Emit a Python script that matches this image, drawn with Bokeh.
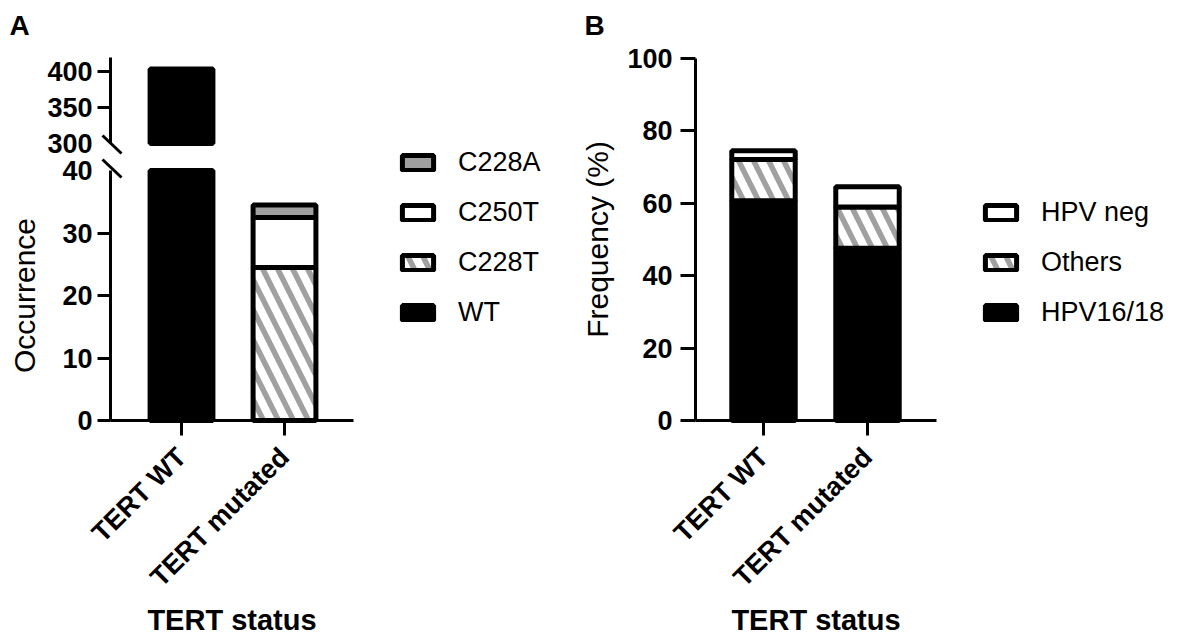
import math
from bokeh.plotting import figure
from bokeh.models import (Range1d, FixedTicker, Legend, LegendItem, Label,
                          LinearAxis, ColumnDataSource)
from bokeh.layouts import row
from bokeh.embed import file_html
from bokeh.resources import INLINE

# ---------------- data ----------------
categories = ["TERT WT", "TERT mutated"]

# Panel A (occurrence, broken y axis)
a_series = ["WT", "C228T", "C250T", "C228A"]
a_wt = [404, 0]
a_c228t = [0, 24.5]
a_c250t = [0, 8]
a_c228a = [0, 2]
a_low_ticks = [0, 10, 20, 30]
a_high_ticks = [350, 400]
a_low_segment = [0, 40]       # lower part of the broken axis
a_high_segment = [300, 420]   # upper part of the broken axis

# Panel B (frequency %)
b_series = ["HPV16/18", "Others", "HPV neg"]
b_hpv1618 = [60.7, 47.6]
b_others = [11.4, 11.4]
b_hpvneg = [2.4, 5.6]
b_ticks = [0, 20, 40, 60, 80, 100]

# ---------------- style / layout ----------------
FONT = "Liberation Sans"
GRAY = "#a0a0a0"
OUT_W = 5
BAR_W = 0.61
HATCH = dict(hatch_color=GRAY, hatch_weight=5.5, hatch_scale=30)
H = 640
WA, WB = 575, 606


class PixMap:
    """Linear map between data values and canvas pixels (used for layout only)."""
    def __init__(self, v0, px0, ppu, flip):
        self.v0, self.px0, self.ppu, self.flip = v0, px0, ppu, flip

    def v(self, px):
        d = (px - self.px0) / self.ppu
        return self.v0 - d if self.flip else self.v0 + d

    def rng(self, total):
        a, b = self.v(0), self.v(total)
        return Range1d(min(a, b), max(a, b))


def style_axis(ax, tick_out, label_standoff):
    ax.axis_line_width = 3
    ax.axis_line_color = "black"
    ax.major_tick_line_width = 3
    ax.major_tick_line_color = "black"
    ax.major_tick_out = tick_out
    ax.major_tick_in = 0
    ax.minor_tick_line_color = None
    ax.major_label_standoff = label_standoff
    ax.major_label_text_font = FONT
    ax.major_label_text_font_size = "27px"
    ax.major_label_text_font_style = "bold"
    ax.major_label_text_color = "black"
    ax.axis_label_text_font = FONT
    ax.axis_label_text_font_size = "30px"
    ax.axis_label_text_color = "black"
    ax.axis_label_text_font_style = "normal"


def make_fig(w, xr, yr, **kw):
    p = figure(width=w, height=H, x_range=xr, y_range=yr, output_backend="svg",
               toolbar_location=None, x_axis_location=None, y_axis_location=None,
               min_border=0, **kw)
    p.outline_line_color = None
    p.xgrid.grid_line_color = None
    p.ygrid.grid_line_color = None
    p.background_fill_color = "white"
    p.border_fill_color = "white"
    return p


def x_axis(p, bounds, label):
    ax = LinearAxis(fixed_location=0, bounds=bounds,
                    ticker=FixedTicker(ticks=list(range(len(categories)))),
                    major_label_overrides={i: c for i, c in enumerate(categories)},
                    axis_label=label)
    style_axis(ax, 15, 17)
    ax.major_label_orientation = math.pi / 4
    ax.axis_label_text_font_style = "bold"
    ax.axis_label_text_font_size = "29px"
    ax.axis_label_standoff = -2
    p.add_layout(ax, "below")
    return ax


def legend(p, names, renderers, loc):
    leg = Legend(items=[LegendItem(label=n, renderers=[r])
                        for n, r in reversed(list(zip(names, renderers)))],
                 location=loc, glyph_width=39, glyph_height=19, label_height=19,
                 label_standoff=21, spacing=19, padding=0, margin=0,
                 border_line_color=None, background_fill_alpha=0,
                 label_text_font=FONT, label_text_font_size="27px",
                 label_text_color="black")
    p.add_layout(leg)


def letter(p, txt):
    p.add_layout(Label(x=9, y=H - 25, x_units="screen", y_units="screen", text=txt,
                       text_align="left", text_baseline="alphabetic", text_font=FONT,
                       text_font_size="28px", text_font_style="bold", text_color="black"))


xs = list(range(len(categories)))

# ======================= Panel A =======================
mxA = PixMap(0, 181, 103, False)           # category index -> px
mlow = PixMap(0, 420, 6.25, True)          # lower segment
mhigh = PixMap(300, 143, 86 / 120, True)   # upper segment
pa = make_fig(WA, mxA.rng(WA), mlow.rng(H), extra_y_ranges={"high": mhigh.rng(H)})
yax_x = mxA.v(110)

lo_top = a_low_segment[1]
src_a = ColumnDataSource(dict(x=xs,
                              WT=[min(v, lo_top) for v in a_wt],
                              C228T=a_c228t, C250T=a_c250t, C228A=a_c228a))
a_fill = ["black", "white", "white", GRAY]
a_hatch = [" ", "\\", " ", " "]
rs_a = pa.vbar_stack(a_series, x="x", width=BAR_W, source=src_a,
                     fill_color=a_fill, line_color="black", line_width=OUT_W,
                     hatch_pattern=a_hatch, **HATCH)
hi_b = a_high_segment[0]
up = [(x, v) for x, v in zip(xs, a_wt) if v > hi_b]
pa.vbar(x=[u[0] for u in up], bottom=hi_b, top=[u[1] for u in up], width=BAR_W,
        y_range_name="high", fill_color="black", line_color="black", line_width=OUT_W)

# y axes (lower, upper and the two break labels)
ax_lo = LinearAxis(fixed_location=yax_x, bounds=tuple(a_low_segment),
                   ticker=FixedTicker(ticks=a_low_ticks), axis_label="Occurrence")
style_axis(ax_lo, 13, 5)
ax_lo.axis_label_standoff = 18
pa.add_layout(ax_lo, "left")
ax_hi = LinearAxis(fixed_location=yax_x, bounds=tuple(a_high_segment), y_range_name="high",
                   ticker=FixedTicker(ticks=a_high_ticks))
style_axis(ax_hi, 13, 5)
pa.add_layout(ax_hi, "left")
for rng_name, tick in (("default", a_low_segment[1]), ("high", a_high_segment[0])):
    axb = LinearAxis(fixed_location=yax_x, y_range_name=rng_name,
                     ticker=FixedTicker(ticks=[tick]))
    style_axis(axb, 13, 5)
    axb.axis_line_alpha = 0
    axb.major_tick_line_alpha = 0
    pa.add_layout(axb, "left")

# break marks
pa.segment(x0=[mxA.v(102)], y0=[mhigh.v(135)], x1=[mxA.v(121)], y1=[mhigh.v(153)],
           y_range_name="high", line_width=3, line_color="black")
pa.segment(x0=[mxA.v(102)], y0=[mlow.v(159)], x1=[mxA.v(121)], y1=[mlow.v(177)],
           line_width=3, line_color="black")

x_axis(pa, (yax_x, mxA.v(353)), "TERT status")
legend(pa, a_series, rs_a, (398, H - 328))
letter(pa, "A")

# ======================= Panel B =======================
mxB = PixMap(0, 188, 104, False)
myB = PixMap(0, 420, 3.62, True)
pb = make_fig(WB, mxB.rng(WB), myB.rng(H))
ybx = mxB.v(120)
b_cols = ["HPV1618", "Others", "HPVneg"]
src_b = ColumnDataSource(dict(x=xs, HPV1618=b_hpv1618, Others=b_others, HPVneg=b_hpvneg))
rs_b = pb.vbar_stack(b_cols, x="x", width=BAR_W, source=src_b,
                     fill_color=["black", "white", "white"], line_color="black", line_width=OUT_W,
                     hatch_pattern=[" ", "\\", " "], **HATCH)
ax_b = LinearAxis(fixed_location=ybx, bounds=(b_ticks[0], b_ticks[-1]),
                  ticker=FixedTicker(ticks=b_ticks), axis_label="Frequency (%)")
style_axis(ax_b, 15, 8)
ax_b.axis_label_standoff = 10
pb.add_layout(ax_b, "left")
x_axis(pb, (ybx, mxB.v(361)), "TERT status")
legend(pb, b_series, rs_b, (406, H - 328))
letter(pb, "B")

layout = row(pa, pb)
open("out.html", "w").write(file_html(layout, INLINE))
